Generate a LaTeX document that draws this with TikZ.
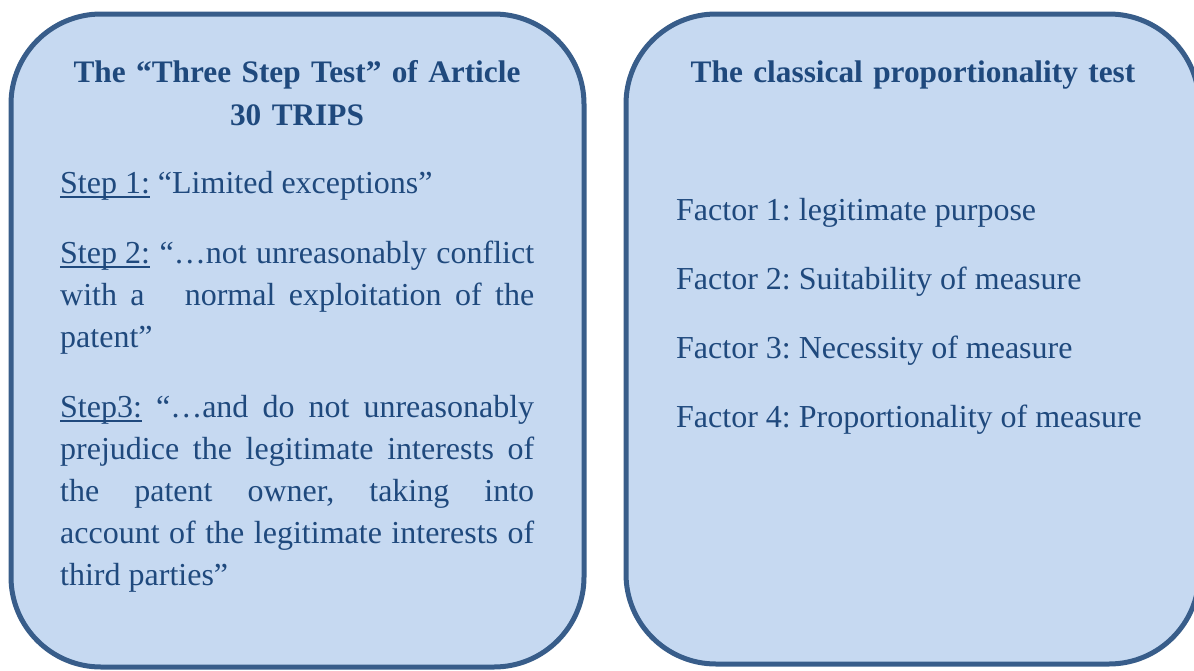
\documentclass[tikz,border=0pt]{standalone}
\usepackage{fontspec}
\setmainfont{Liberation Serif}
\usepackage{tikz}
\definecolor{BoxFill}{HTML}{C6D9F1}
\definecolor{BoxLine}{HTML}{385D8A}
\definecolor{TextBlue}{HTML}{1F497D}
\newsavebox{\ulbox}
\newcommand{\ulstep}[1]{\sbox{\ulbox}{#1}\rlap{\rule[-5pt]{\wd\ulbox}{1.8pt}}\usebox{\ulbox}}
\frenchspacing

\begin{document}
\begin{tikzpicture}[x=1pt, y=-1pt,
    panel/.style={draw=BoxLine, line width=5pt, fill=BoxFill, rounded corners=90pt, minimum width=573pt},
    heading/.style={font=\fontsize{31.3}{43}\selectfont\bfseries, text=TextBlue, text width=540pt, align=center, inner sep=0pt, anchor=base},
    bodytext/.style={font=\fontsize{32}{42}\selectfont, text=TextBlue, text width=474pt, align=justify, inner sep=0pt, anchor=base west},
    factor/.style={font=\fontsize{32}{42}\selectfont, text=TextBlue, inner sep=0pt, anchor=base west}]
    \useasboundingbox (0,0) rectangle (1194,670);

    % Panels
    \node[panel, minimum height=653pt] (steptest) at (297.5,340.5) {};
    \node[panel, minimum height=650pt] (proptest) at (912.5,339) {};

    % Three step test
    \node[heading] (steptitle) at (297,82) {The “Three Step Test” of Article\\30 TRIPS};
    \node[bodytext] (stepone) at (60,193) {\ulstep{Step 1:} “Limited exceptions”};
    \node[bodytext] (steptwo) at (60,263) {\ulstep{Step 2:} “…not unreasonably conflict\linebreak with a~~~normal exploitation of the\linebreak patent”};
    \node[bodytext] (stepthree) at (60,417) {\ulstep{Step3:} “…and do not unreasonably\linebreak prejudice the legitimate interests of\linebreak the patent owner, taking into\linebreak account of the legitimate interests of\linebreak third parties”};

    % Proportionality test
    \node[heading] (proptitle) at (913,82) {The classical proportionality test};
    \node[factor] (factorone) at (676,220) {Factor 1: legitimate purpose};
    \node[factor] (factortwo) at (676,289) {Factor 2: Suitability of measure};
    \node[factor] (factorthree) at (676,358) {Factor 3: Necessity of measure};
    \node[factor] (factorfour) at (676,427) {Factor 4: Proportionality of measure};
\end{tikzpicture}
\end{document}
